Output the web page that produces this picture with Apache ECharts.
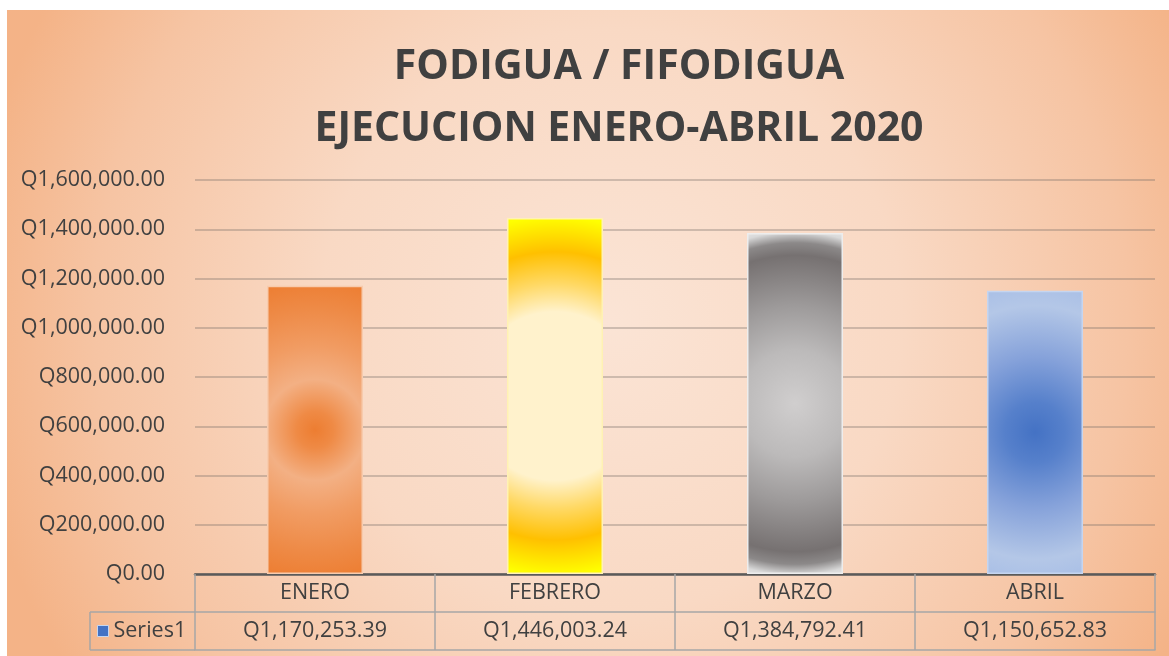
<!DOCTYPE html>
<html>
<head>
<meta charset="utf-8">
<script src="https://cdn.jsdelivr.net/npm/echarts@6/dist/echarts.min.js"></script>
<style>
html,body{margin:0;padding:0;background:#ffffff;}
#chart{position:absolute;left:7px;top:10px;width:1162px;height:646px;}
</style>
</head>
<body>
<div id="chart"></div>
<script>
// ---- data ----
var categories = ['ENERO', 'FEBRERO', 'MARZO', 'ABRIL'];
var values = [1170253.39, 1446003.24, 1384792.41, 1150652.83];
var seriesName = 'Series1';
var titleLines = ['FODIGUA / FIFODIGUA', 'EJECUCION ENERO-ABRIL 2020'];
var yTicks = { min: 0, max: 1600000, interval: 200000 };

// ---- styles ----
var barGradients = [
  { r: 1.59, stops: [[0,'#ed7d31'],[0.12,'#ef8a45'],[0.33,'#f3b084'],[0.55,'#f19c63'],[0.8,'#ee8a46'],[1,'#ed7d31']] },
  { r: 1.95, stops: [[0,'#fff2cc'],[0.45,'#fff2cc'],[0.6,'#ffd966'],[0.77,'#ffc000'],[0.96,'#ffff00'],[1,'#ffff00']] },
  { r: 1.86, stops: [[0,'#d0cece'],[0.3,'#bcbaba'],[0.55,'#9d9a9a'],[0.83,'#767171'],[0.9,'#8c8989'],[0.96,'#d9d9d9'],[1,'#e6e6e6']] },
  { r: 1.57, stops: [[0,'#4472c4'],[0.2,'#5680cb'],[0.5,'#86a2da'],[0.84,'#b4c7e7'],[1,'#a9bfe6']] }
];
var barBorders = ['#f8cbad', '#fff2b3', '#ededed', '#c5d5f0'];

function fmtQ(v) {
  var neg = v < 0; v = Math.abs(v);
  var fixed = v.toFixed(2);
  var parts = fixed.split('.');
  var intPart = parts[0].replace(/\B(?=(\d{3})+(?!\d))/g, ',');
  return (neg ? '-' : '') + 'Q' + intPart + '.' + parts[1];
}

var FONT = '"Open Sans", "Liberation Sans", sans-serif';
var TEXT = '#404040';
var TABLE_LINE = '#a6a6a6';
var FS = 21.5;

var barData = values.map(function (v, i) {
  var g = barGradients[i];
  var stops = g.stops.map(function (s) { return { offset: s[0], color: s[1] }; });
  return {
    value: v,
    itemStyle: {
      color: { type: 'radial', x: 0.5, y: 0.5, r: g.r, colorStops: stops },
      borderColor: barBorders[i],
      borderWidth: 1.5
    }
  };
});
var valueLabels = values.map(fmtQ);

var chart = echarts.init(document.getElementById('chart'), null, { renderer: 'canvas' });
var option = {
  animation: false,
  backgroundColor: {
    type: 'radial', x: 0.52, y: 0.48, r: 1,
    colorStops: [
      { offset: 0, color: '#fbe4d5' },
      { offset: 0.45, color: '#f9d9c4' },
      { offset: 0.8, color: '#f6c4a3' },
      { offset: 1, color: '#f4b387' }
    ]
  },
  title: {
    text: titleLines.join('\n'),
    left: 607,
    top: 21,
    textAlign: 'center',
    textStyle: { fontFamily: FONT, fontWeight: 'bold', fontSize: 41, lineHeight: 62, color: TEXT }
  },
  legend: {
    data: [{ name: seriesName, itemStyle: { color: '#4472c4', borderColor: '#c5d5f0', borderWidth: 1 } }],
    left: 90, top: 610, padding: 0,
    icon: 'rect', itemWidth: 11, itemHeight: 11, itemGap: 6,
    textStyle: { fontFamily: FONT, fontSize: FS, color: TEXT, padding: [0, 0, 0, 0] }
  },
  grid: { left: 188, right: 14, top: 170, bottom: 82, containLabel: false },
  xAxis: [
    {
      type: 'category', data: categories, position: 'bottom', offset: 0,
      axisLine: { show: true, lineStyle: { color: '#5a5a5a', width: 2.5 } },
      axisTick: { show: true, interval: 0, length: 76, lineStyle: { color: TABLE_LINE, width: 1.5 } },
      axisLabel: { interval: 0, margin: 8, fontFamily: FONT, fontSize: FS, color: TEXT },
      splitLine: { show: false }
    },
    {
      type: 'category', data: valueLabels, position: 'bottom', offset: 38,
      axisLine: { show: true, lineStyle: { color: TABLE_LINE, width: 1.5 } },
      axisTick: { show: false },
      axisLabel: { interval: 0, margin: 8, fontFamily: FONT, fontSize: FS, color: TEXT },
      splitLine: { show: false }
    },
    {
      type: 'category', data: categories, position: 'bottom', offset: 76,
      axisLine: { show: true, lineStyle: { color: TABLE_LINE, width: 1.5 } },
      axisTick: { show: false },
      axisLabel: { show: false },
      splitLine: { show: false }
    }
  ],
  yAxis: {
    type: 'value', min: yTicks.min, max: yTicks.max, interval: yTicks.interval,
    axisLine: { show: false }, axisTick: { show: false },
    axisLabel: { margin: 30, fontFamily: FONT, fontSize: FS, color: TEXT, formatter: fmtQ },
    splitLine: { lineStyle: { color: 'rgba(120,110,105,0.45)', width: 1.5 } }
  },
  series: [{
    name: seriesName, type: 'bar', xAxisIndex: 0, yAxisIndex: 0,
    barWidth: '40%', data: barData,
    itemStyle: { color: '#4472c4' }
  }],
  graphic: [
    { type: 'line', shape: { x1: 83, y1: 602, x2: 188, y2: 602 }, style: { stroke: TABLE_LINE, lineWidth: 1.5 } },
    { type: 'line', shape: { x1: 83, y1: 640, x2: 188, y2: 640 }, style: { stroke: TABLE_LINE, lineWidth: 1.5 } },
    { type: 'line', shape: { x1: 83, y1: 602, x2: 83, y2: 640 }, style: { stroke: TABLE_LINE, lineWidth: 1.5 } }
  ]
};
chart.setOption(option);
</script>
</body>
</html>
